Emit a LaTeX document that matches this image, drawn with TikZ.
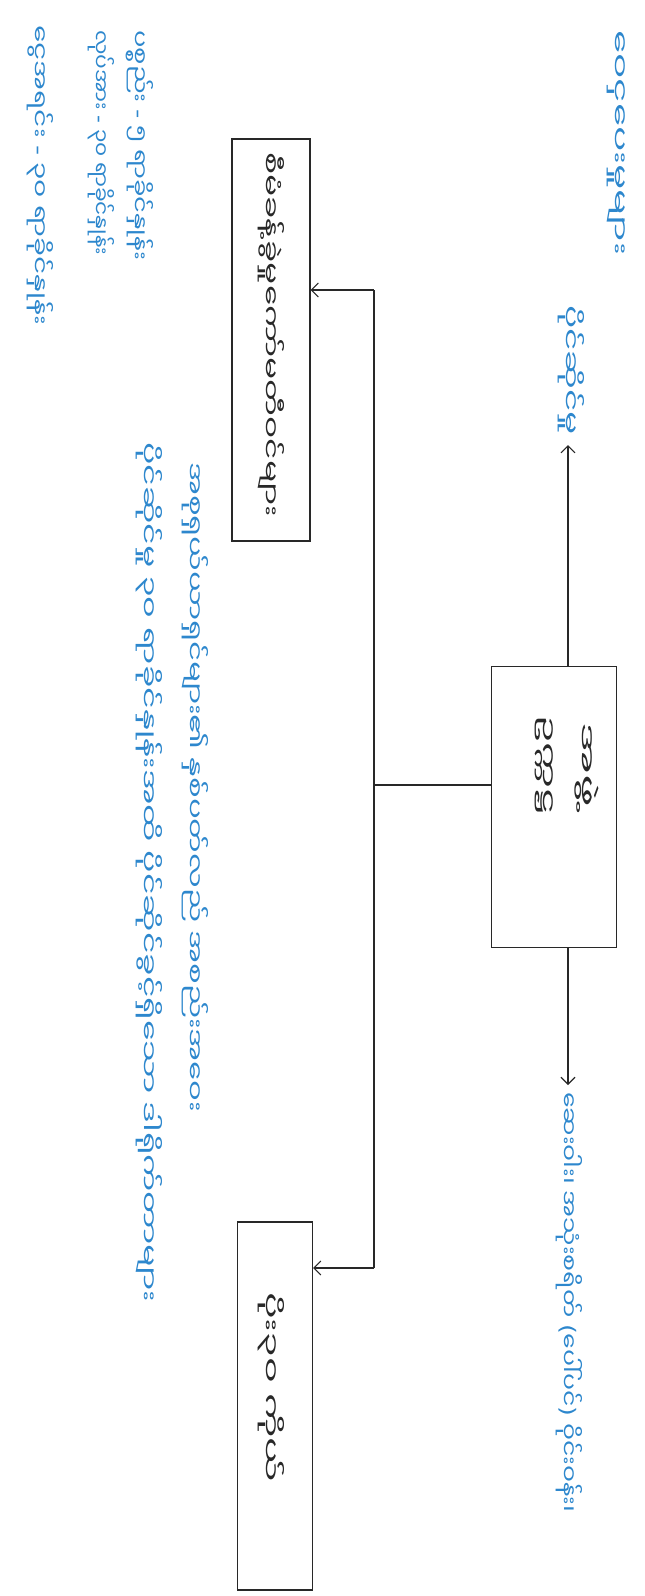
\documentclass[tikz,border=0pt]{standalone}
\usepackage{fontspec}
\usepackage{graphicx}
\usetikzlibrary{arrows.meta}
\newfontfamily\my[Script=Myanmar]{Noto Sans Myanmar UI}
\newfontfamily\dv{DejaVu Sans}
\newcommand\fitto[2]{\resizebox{#1}{\height}{#2}}
\definecolor{inkblue}{RGB}{45,135,205}
\definecolor{inkblack}{RGB}{40,40,40}
\begin{document}
\begin{tikzpicture}[x=1pt,y=-1pt,
  box/.style={draw=inkblack, line width=1.1pt, inner sep=0pt},
  lbl/.style={text=inkblue, font=\my\fontsize{20}{24}\selectfont, rotate=-90, inner sep=0pt, anchor=south west},
  btx/.style={text=inkblack, font=\my\fontsize{20}{24}\selectfont, rotate=-90, inner sep=0pt, anchor=south west},
  conn/.style={draw=inkblack, line width=1.1pt},
  arr/.style={conn, -{Straight Barb[length=7pt,width=14pt]}}]
\useasboundingbox (0,0) rectangle (645,1596);
% boxes
\node[box, minimum width=78pt, minimum height=402pt] (b1) at (271,340) {};
\node[box, minimum width=75pt, minimum height=368pt] (b2) at (275,1406) {};
\node[box, minimum width=125pt, minimum height=281pt] (c) at (554,807) {};
% box texts
\node[btx] (b1t) at (258,152) {\fitto{365pt}{စီမံခန့်ခွဲမှုကော်မတီဝင်များ}};
\node[btx] (b2t) at (258,1292) {\fitto{190pt}{ပိုး၃၀ ကိုယ်}};
\node[btx] (c1) at (535,715) {\fitto{100pt}{ဥက္ကဋ္ဌ}};
\node[btx] (c2) at (575,722) {\fitto{85pt}{အဖွဲ့}};
% spine
\coordinate (s1) at (374,290);
\coordinate (s2) at (374,1268);
\coordinate (j) at (374,785);
\coordinate (ua) at (568,445);
\coordinate (da) at (568,1085);
\draw[conn] (s1) -- (s2);
\draw[conn] (j) -- (j -| c.west);
\draw[arr] (s1) -- (s1 -| b1.east);
\draw[arr] (s2) -- (s2 -| b2.east);
\draw[arr] (ua |- c.north) -- (ua);
\draw[arr] (da |- c.south) -- (da);
% labels
\node[lbl] (t1) at (27,25) {\fitto{300pt}{ငွေအရင်း {\dv -} ၃၀ ရာခိုင်နှုန်း}};
\node[lbl] (t2) at (88,30) {\fitto{225pt}{လုပ်အား {\dv -} ၃၀ ရာခိုင်နှုန်း}};
\node[lbl] (t3) at (126,30) {\fitto{230pt}{ပစ္စည်း {\dv -} ၅ ရာခိုင်နှုန်း}};
\node[lbl] (t4) at (136,442) {\fitto{860pt}{ပိုင်ဆိုင်မှု ၃၀ ရာခိုင်နှုန်းအထိ ပိုင်ဆိုင်ခွင့်ရှိသော ဒါရိုက်တာများ}};
\node[lbl] (t5) at (182,462) {\fitto{650pt}{အစုရှယ်ယာရှင်များ၏ နှစ်ပတ်လည် အစည်းအဝေး}};
\node[lbl] (t6) at (607,30) {\fitto{225pt}{ဝေငှပေးမှုများ}};
\node[lbl] (t7) at (558,305) {\fitto{130pt}{ပိုင်ဆိုင်မှု}};
\node[lbl] (t8) at (556,1092) {\fitto{420pt}{ဆေးဝါး၊ အသုံးစရိတ် {\dv (}ပေါ်ပင်{\dv )} ဝိုင်းဝန်း၊}};
\end{tikzpicture}
\end{document}
